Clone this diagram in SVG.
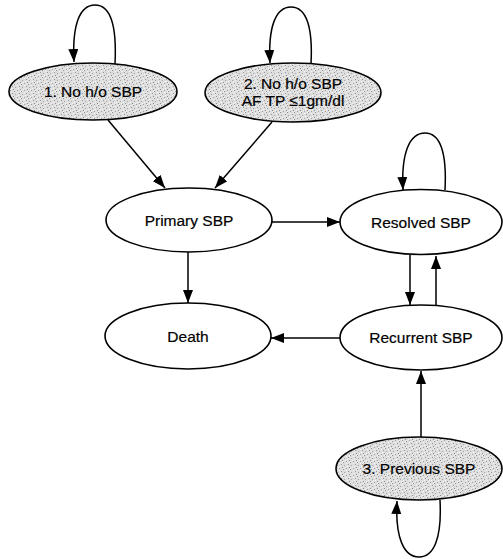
<svg xmlns="http://www.w3.org/2000/svg" width="503" height="559" viewBox="0 0 503 559">
  <defs>
    <pattern id="stipple" width="7" height="7" patternUnits="userSpaceOnUse">
      <rect width="7" height="7" fill="#dedede"/>
      <rect x="0" y="0" width="1" height="1" fill="#8c8c8c"/>
      <rect x="3" y="1" width="1" height="1" fill="#f6f6f6"/>
      <rect x="5" y="2" width="1" height="1" fill="#999"/>
      <rect x="1" y="3" width="1" height="1" fill="#a5a5a5"/>
      <rect x="4" y="4" width="1" height="1" fill="#f8f8f8"/>
      <rect x="6" y="5" width="1" height="1" fill="#8f8f8f"/>
      <rect x="2" y="5" width="1" height="1" fill="#f3f3f3"/>
      <rect x="3" y="6" width="1" height="1" fill="#a0a0a0"/>
      <rect x="6" y="0" width="1" height="1" fill="#f2f2f2"/>
      <rect x="0" y="6" width="1" height="1" fill="#f4f4f4"/>
    </pattern>
    <marker id="arrow" markerUnits="userSpaceOnUse" markerWidth="14" markerHeight="11" refX="13" refY="5" orient="auto">
      <path d="M0,0 L13,5 L0,10 z" fill="#000"/>
    </marker>
  </defs>
  <style>
    .node ellipse { stroke: #000; stroke-width: 1.6; }
    .plain ellipse { fill: #fff; }
    .shaded ellipse { fill: url(#stipple); }
    .node text { font-family: "Liberation Sans", Arial, sans-serif; font-size: 15.5px; fill: #000; stroke: #000; stroke-width: 0.2; text-anchor: middle; }
    #connectors path { fill: none; stroke: #000; stroke-width: 1.5; marker-end: url(#arrow); }
  </style>

  <g id="connectors">
    <path d="M115,64 C117,24 110,5 95,5 C80,5 72,24 74,62"/>
    <path d="M311,64 C313,26 306,7 291,7 C276,7 268,26 270,63"/>
    <path d="M445,190 C447,152 440,133 425,133 C410,133 401,152 403,190"/>
    <path d="M440,500 C442,538 434,557 419,557 C404,557 395,538 397,501"/>
    <path d="M108,120 L165,188"/>
    <path d="M272,122 L215,188"/>
    <path d="M272,222 L340,222"/>
    <path d="M188,252 L188,303"/>
    <path d="M410,255 L410,305"/>
    <path d="M436,305 L436,256"/>
    <path d="M340,338 L271,338"/>
    <path d="M421,437 L421,371"/>
  </g>

  <g id="node1" class="node shaded">
    <ellipse cx="93" cy="91.5" rx="84" ry="28.5"/>
    <text x="93" y="97">1. No h/o SBP</text>
  </g>
  <g id="node2" class="node shaded">
    <ellipse cx="293" cy="92.5" rx="88" ry="29.5"/>
    <text x="293" y="88.5">2. No h/o SBP</text>
    <text x="293" y="105.5">AF TP ≤1gm/dl</text>
  </g>
  <g id="primary" class="node plain">
    <ellipse cx="189" cy="220" rx="83" ry="32"/>
    <text x="189" y="225.5">Primary SBP</text>
  </g>
  <g id="resolved" class="node plain">
    <ellipse cx="421" cy="222" rx="81" ry="32.5"/>
    <text x="421" y="227.5">Resolved SBP</text>
  </g>
  <g id="death" class="node plain">
    <ellipse cx="188" cy="336" rx="83" ry="33"/>
    <text x="188" y="341.5">Death</text>
  </g>
  <g id="recurrent" class="node plain">
    <ellipse cx="421" cy="337.5" rx="81" ry="32.5"/>
    <text x="421" y="343">Recurrent SBP</text>
  </g>
  <g id="previous" class="node shaded">
    <ellipse cx="419" cy="468.5" rx="83" ry="31.5"/>
    <text x="419" y="474">3. Previous SBP</text>
  </g>
</svg>
